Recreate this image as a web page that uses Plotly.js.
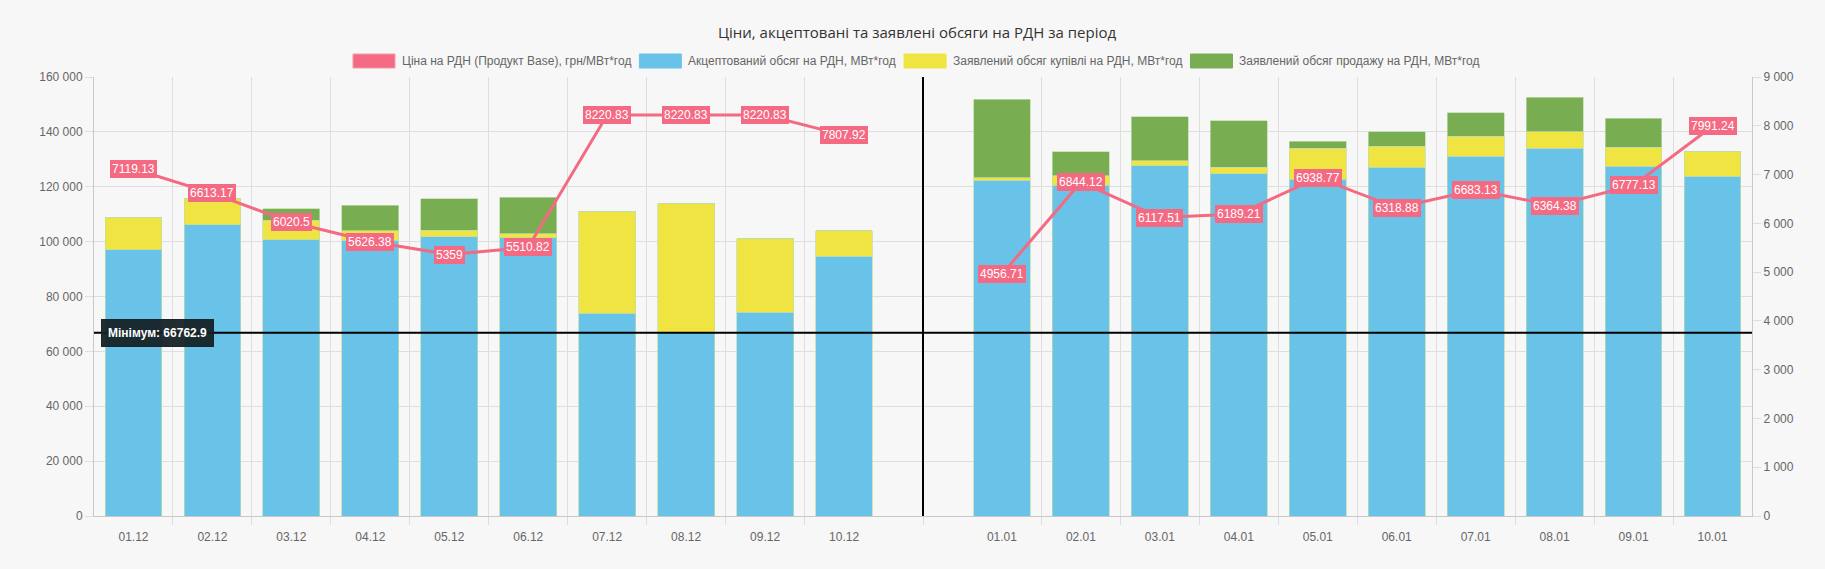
<!DOCTYPE html>
<html>
<head>
<meta charset="utf-8">
<script src="https://cdn.plot.ly/plotly-3.0.1.min.js"></script>
<style>
  html, body { margin: 0; padding: 0; background: #f7f7f7; }
  #chart { width: 1825px; height: 569px; }
</style>
</head>
<body>
<div id="chart"></div>
<script>
// ---------- DATA ----------
const categories = ['01.12','02.12','03.12','04.12','05.12','06.12','07.12','08.12','09.12','10.12','',
                    '01.01','02.01','03.01','04.01','05.01','06.01','07.01','08.01','09.01','10.01'];
const price = [7119.13, 6613.17, 6020.5, 5626.38, 5359, 5510.82, 8220.83, 8220.83, 8220.83, 7807.92, null,
               4956.71, 6844.12, 6117.51, 6189.21, 6938.77, 6318.88, 6683.13, 6364.38, 6777.13, 7991.24];
const accepted = [97100, 106200, 100700, 100500, 101800, 101500, 73900, 66762.9, 74200, 94600, null,
                  122400, 120500, 127700, 124700, 122700, 127200, 131200, 134100, 127500, 123800];
const buyDeclared = [11800, 9700, 7100, 3500, 2300, 1300, 37100, 47100, 26800, 9400, null,
                     900, 3600, 1800, 2500, 11300, 7500, 7200, 6000, 6900, 9200];
const sellDeclared = [0, 0, 4200, 9200, 11600, 13400, 0, 0, 0, 0, null,
                      28600, 8600, 16100, 16800, 2600, 5300, 8500, 12600, 10500, 0];
const seriesNames = ['Ціна на РДН (Продукт Base), грн/МВт*год',
                     'Акцептований обсяг на РДН, МВт*год',
                     'Заявлений обсяг купівлі на РДН, МВт*год',
                     'Заявлений обсяг продажу на РДН, МВт*год'];
const titleText = 'Ціни, акцептовані та заявлені обсяги на РДН за період';
const minLabelPrefix = 'Мінімум: ';

// ---------- STYLE ----------
const FONT = '"Liberation Sans", Arial, Helvetica, sans-serif';
const TITLE_FONT = '"Open Sans", "Noto Sans", sans-serif';
const colors = ['#f46a83', '#69c3e8', '#f0e442', '#78ad52'];
const gridColor = '#dedede';
const axisColor = '#c9c9c9';
const W = 1825, H = 569;
const M = {l: 94, r: 73, t: 77, b: 53};
const plotW = W - M.l - M.r;

const xs = categories.map((_, i) => i);
const gapIndex = categories.indexOf('');
const labelIdx = xs.filter(i => categories[i] !== '');
// boundaries between categories (skip those touching the gap), plus the gap centre
const boundaries = [];
for (let i = 0; i < categories.length - 1; i++) {
  if (i === gapIndex || i + 1 === gapIndex) continue;
  boundaries.push(i + 0.5);
}
boundaries.push(gapIndex);

const barCommon = {type: 'bar', x: xs, width: 0.72, yaxis: 'y', hoverinfo: 'skip', showlegend: false,
                   marker: {line: {width: 0.8, color: 'rgba(190,220,170,0.9)'}}};
const traces = [
  Object.assign({}, barCommon, {y: accepted, name: seriesNames[1], marker: Object.assign({}, barCommon.marker, {color: colors[1]})}),
  Object.assign({}, barCommon, {y: buyDeclared, name: seriesNames[2], marker: Object.assign({}, barCommon.marker, {color: colors[2]})}),
  Object.assign({}, barCommon, {y: sellDeclared, name: seriesNames[3], marker: Object.assign({}, barCommon.marker, {color: colors[3]})}),
  {type: 'scatter', mode: 'lines', x: xs, y: price, yaxis: 'y2', name: seriesNames[0],
   line: {color: colors[0], width: 3}, connectgaps: false, hoverinfo: 'skip', showlegend: false}
];

const minVal = Math.min(...accepted.filter(v => v !== null));

// price labels
const annotations = [];
price.forEach((v, i) => {
  if (v === null) return;
  annotations.push({x: i, y: v, xref: 'x', yref: 'y2', text: String(v), showarrow: false,
    font: {family: FONT, size: 12, color: '#ffffff'}, bgcolor: colors[0], bordercolor: colors[0],
    borderpad: 1, borderwidth: 1, xanchor: 'center', yanchor: 'middle'});
});
// minimum label
annotations.push({x: (101 - M.l) / plotW, xref: 'paper', y: minVal, yref: 'y',
  text: '<b>' + minLabelPrefix + minVal + '</b>', showarrow: false, xanchor: 'left', yanchor: 'middle',
  font: {family: FONT, size: 12, color: '#ffffff'}, bgcolor: 'rgba(22,34,39,0.95)',
  bordercolor: 'rgba(22,34,39,0.95)', borderpad: 6});

// custom legend (Chart.js style wide boxes)
const ctx = document.createElement('canvas').getContext('2d');
ctx.font = '12px ' + FONT;
const boxW = 42, boxGap = 5, itemGap = 10;
const widths = seriesNames.map(n => ctx.measureText(n).width);
const total = widths.reduce((a, w) => a + boxW + boxGap + w, 0) + itemGap * (seriesNames.length - 1);
let cx = W / 2 - total / 2 + 3;
const shapes = [];
const legendY = 61;
const toPX = px => (px - M.l) / plotW;
const toPY = py => (H - M.b - py) / (H - M.t - M.b);
seriesNames.forEach((n, k) => {
  shapes.push({type: 'rect', xref: 'paper', yref: 'paper', x0: toPX(cx), x1: toPX(cx + boxW),
    y0: toPY(legendY + 7), y1: toPY(legendY - 7), fillcolor: colors[k],
    line: {width: 1, color: k === 0 ? '#f59aab' : colors[k]}, layer: 'above'});
  annotations.push({xref: 'paper', yref: 'paper', x: toPX(cx + boxW + boxGap), y: toPY(legendY),
    xanchor: 'left', yanchor: 'middle', text: n, showarrow: false,
    font: {family: FONT, size: 12, color: '#666666'}});
  cx += boxW + boxGap + widths[k] + itemGap;
});

// minimum line and gap separator
shapes.push({type: 'line', xref: 'paper', yref: 'y', x0: 0, x1: 1, y0: minVal, y1: minVal,
  line: {color: '#000000', width: 2}, layer: 'above'});
shapes.push({type: 'line', xref: 'x', yref: 'paper', x0: gapIndex, x1: gapIndex, y0: 0, y1: 1,
  line: {color: '#000000', width: 2}, layer: 'above'});

const layout = {
  width: W, height: H,
  margin: M,
  paper_bgcolor: '#f7f7f7', plot_bgcolor: '#f7f7f7',
  barmode: 'stack',
  separators: '. ',
  showlegend: false,
  font: {family: FONT, size: 12, color: '#666666'},
  title: {text: titleText, font: {family: TITLE_FONT, size: 15, color: '#333333'},
          x: 917 / W, xref: 'container', xanchor: 'center', y: 1 - 33 / H, yref: 'container', yanchor: 'middle'},
  xaxis: {
    range: [-0.5, categories.length - 0.5], tickmode: 'array', tickvals: labelIdx,
    ticktext: labelIdx.map(i => categories[i]), ticks: '', showgrid: false, zeroline: false,
    showline: true, linecolor: axisColor, linewidth: 1, mirror: false,
    ticklabelstandoff: 10, tickfont: {family: FONT, size: 12, color: '#666666'},
    minor: {tickmode: 'array', tickvals: boundaries, ticks: 'outside', ticklen: 8, tickcolor: gridColor,
            showgrid: true, gridcolor: gridColor, gridwidth: 1}
  },
  yaxis: {
    range: [0, 160000], dtick: 20000, tick0: 0, tickformat: ',.0f',
    showgrid: true, gridcolor: gridColor, zeroline: false, showline: true, linecolor: axisColor,
    ticks: 'outside', ticklen: 8, tickcolor: gridColor, tickfont: {family: FONT, size: 12, color: '#666666'}
  },
  yaxis2: {
    range: [0, 9000], dtick: 1000, tick0: 0, tickformat: ',.0f', overlaying: 'y', side: 'right',
    showgrid: false, zeroline: false, showline: true, linecolor: axisColor,
    ticks: 'outside', ticklen: 8, tickcolor: gridColor, tickfont: {family: FONT, size: 12, color: '#666666'}
  },
  shapes: shapes,
  annotations: annotations
};

Plotly.newPlot('chart', traces, layout, {displayModeBar: false, staticPlot: true});
</script>
</body>
</html>
